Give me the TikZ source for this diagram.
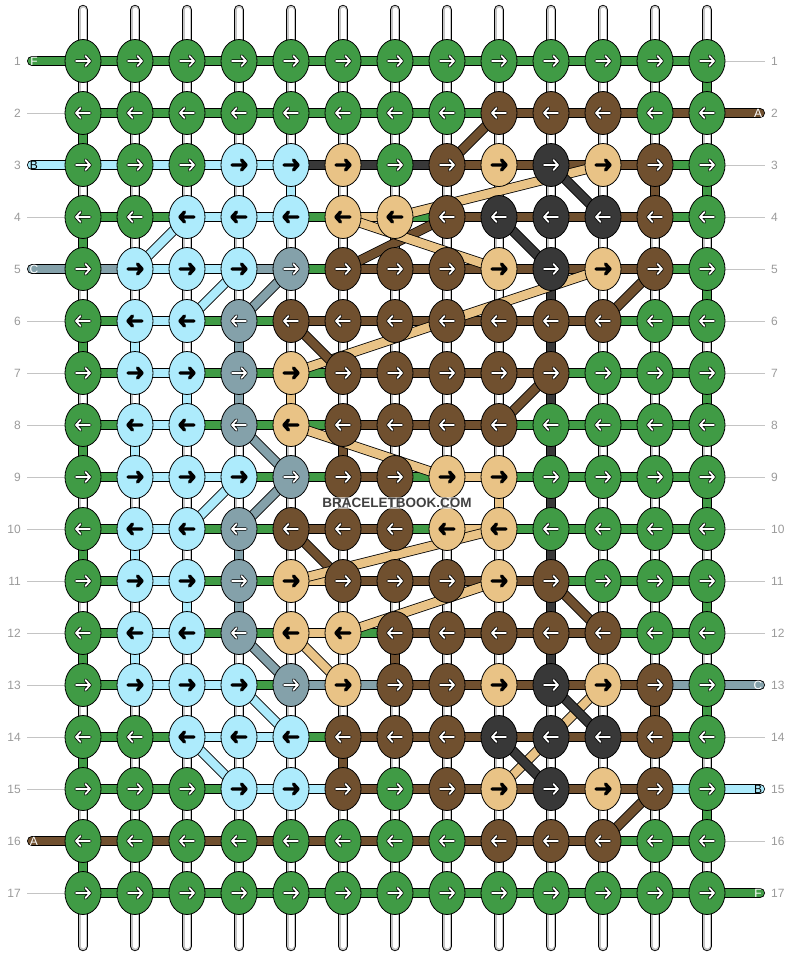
\documentclass[tikz,border=0pt]{standalone}
\usepackage{fontspec}
\setmainfont{Liberation Sans}
\usetikzlibrary{shapes.geometric}

\definecolor{cg}{HTML}{409B45}
\definecolor{cb}{HTML}{70502F}
\definecolor{cl}{HTML}{ADEBFC}
\definecolor{ct}{HTML}{E9C386}
\definecolor{cd}{HTML}{383838}
\definecolor{cs}{HTML}{84A1AA}
\colorlet{arrowg}{white}\colorlet{arrowb}{white}\colorlet{arrows}{white}\colorlet{arrowd}{white}
\colorlet{arrowl}{black}\colorlet{arrowt}{black}
\definecolor{labelgray}{HTML}{9A9A9A}
\definecolor{linegray}{HTML}{C4C4C4}

\begin{document}
\begin{tikzpicture}[x=1pt,y=-1pt,
		strand/.style={draw=black,line width=0.8pt,double distance=8.4pt},
		knot/.style={ellipse,draw=black,line width=0.8pt,minimum width=36pt,minimum height=43pt,inner sep=0pt},
		rowno/.style={text=labelgray,font=\fontsize{12}{12}\selectfont,inner sep=0pt},
		tag/.style={font=\fontsize{12}{12}\selectfont,inner sep=0pt},
		guide/.style={draw=linegray,line width=1pt}]
	\useasboundingbox (0,0) rectangle (792,956);
	\foreach \r in {1,...,17}{
		\foreach \c in {1,...,13}
			\coordinate (p-\r-\c) at ({31+52*\c},{9+52*\r});
		\coordinate (le-\r) at (27,{9+52*\r});
		\coordinate (re-\r) at (765,{9+52*\r});
	}
	\foreach \c in {1,...,13}{
		\coordinate (top-\c) at ({31+52*\c},10);
		\coordinate (bot-\c) at ({31+52*\c},946);
		\draw[line cap=round,line width=10.4pt,black] (top-\c) -- (bot-\c);
		\draw[line cap=round,line width=8.6pt,linegray] (top-\c) -- (bot-\c);
		\draw[line cap=round,line width=5pt,white] (top-\c) -- (bot-\c);
	}
	\foreach \gap [count=\r] in {%
		{w,w,w,w,w,w,w,w,w,w,w,w,g},%
		{g,w,w,w,w,w,w,w,w,w,w,w,w},%
		{w,w,w,w,l,w,w,w,w,w,w,b,g},%
		{g,w,w,w,w,w,w,w,w,w,w,w,w},%
		{w,w,w,w,w,w,w,w,w,d,w,w,g},%
		{g,l,w,s,w,w,w,w,w,d,w,w,w},%
		{w,w,l,s,t,w,w,w,w,d,w,w,g},%
		{g,l,w,w,w,b,w,w,w,d,w,w,w},%
		{w,w,w,w,w,w,w,w,t,d,w,w,g},%
		{g,l,w,s,w,w,w,w,w,d,w,w,w},%
		{w,w,l,s,w,w,w,w,w,d,w,w,g},%
		{g,l,w,w,w,w,b,w,w,d,w,w,w},%
		{w,w,w,w,w,w,w,w,w,w,w,b,g},%
		{g,w,w,w,w,b,w,w,w,w,w,w,w},%
		{w,w,w,w,w,w,w,w,w,w,w,w,g},%
		{g,w,w,w,w,w,w,w,w,w,w,w,w}}{
		\pgfmathtruncatemacro\rr{\r+1}
		\foreach \v [count=\c] in \gap{
			\if\v w\else\draw[strand,double=c\v] (p-\r-\c) -- (p-\rr-\c);\fi
		}
	}
	\foreach \r in {2,4,6,7,8,9,10,11,12,13,14,15,17}
		\draw[guide] (le-\r) -- (p-\r-1);
	\foreach \r in {1,3,4,5,6,7,8,9,10,11,12,14,16}
		\draw[guide] (p-\r-13) -- (re-\r);
	\foreach \r/\k/\lab/\fg in {1/g/F/white,3/l/B/black,5/s/C/white,16/b/A/white}{
		\coordinate (ls-\r) at (32,{9+52*\r});
		\draw[strand,double=c\k,line cap=round] (ls-\r) -- (p-\r-1);
		\node[tag,text=\fg] (lt-\r) at (34,{9+52*\r}) {\lab};
	}
	\foreach \r/\k/\lab/\fg in {2/b/A/white,13/s/C/white,15/l/B/black,17/g/F/white}{
		\coordinate (rs-\r) at (760,{9+52*\r});
		\draw[strand,double=c\k,line cap=round] (p-\r-13) -- (rs-\r);
		\node[tag,text=\fg] (rt-\r) at (758,{9+52*\r}) {\lab};
	}
	\foreach \seg [count=\r] in {%
		{g,g,g,g,g,g,g,g,g,g,g,g},%
		{g,g,g,g,g,g,g,g,b,b,b,b},%
		{l,l,l,l,d,d,d,b,b,b,b,g},%
		{g,g,l,l,g,t,g,b,b,b,b,g},%
		{s,l,l,s,g,b,b,b,b,b,b,g},%
		{g,l,g,g,b,b,b,b,b,b,g,g},%
		{g,l,g,g,g,b,b,b,b,g,g,g},%
		{g,l,g,g,g,b,b,b,g,g,g,g},%
		{g,l,l,g,g,b,g,t,g,g,g,g},%
		{g,l,g,g,b,b,g,t,g,g,g,g},%
		{g,l,g,g,t,b,b,b,b,g,g,g},%
		{g,l,g,g,t,g,b,b,b,b,g,g},%
		{g,l,l,g,s,s,b,b,b,b,b,s},%
		{g,g,l,l,g,b,b,b,b,b,b,g},%
		{g,g,g,l,l,b,b,b,b,b,b,l},%
		{b,b,b,b,b,b,b,b,b,b,g,g},%
		{g,g,g,g,g,g,g,g,g,g,g,g}}{
		\foreach \s [count=\c] in \seg{
			\pgfmathtruncatemacro\cc{\c+1}
			\draw[strand,double=c\s] (p-\r-\c) -- (p-\r-\cc);
		}
	}
	\foreach \a/\b/\k in {2-9/3-8/b,3-11/4-7/t,3-10/4-11/d,4-8/5-6/b,4-6/5-9/t,4-9/5-10/d,%
		4-3/5-2/l,5-4/6-3/l,5-5/6-4/s,5-12/6-11/b,5-11/7-5/t,6-5/7-6/b,7-10/8-9/b,%
		8-5/9-8/t,8-4/9-5/s,9-4/10-3/l,9-5/10-4/s,10-5/11-6/b,10-9/11-5/t,11-10/12-11/b,%
		11-9/12-6/t,12-4/13-5/s,12-5/13-6/t,13-4/14-5/l,14-3/15-4/l,13-11/15-9/t,%
		13-10/14-11/d,14-9/15-10/d,15-12/16-11/b}
		\draw[strand,double=c\k] (p-\a) -- (p-\b);
	\foreach \row [count=\r] in {%
		{g,g,g,g,g,g,g,g,g,g,g,g,g},%
		{g,g,g,g,g,g,g,g,b,b,b,g,g},%
		{g,g,g,l,l,t,g,b,t,d,t,b,g},%
		{g,g,l,l,l,t,t,b,d,d,d,b,g},%
		{g,l,l,l,s,b,b,b,t,d,t,b,g},%
		{g,l,l,s,b,b,b,b,b,b,b,g,g},%
		{g,l,l,s,t,b,b,b,b,b,g,g,g},%
		{g,l,l,s,t,b,b,b,b,g,g,g,g},%
		{g,l,l,l,s,b,b,t,t,g,g,g,g},%
		{g,l,l,s,b,b,b,t,t,g,g,g,g},%
		{g,l,l,s,t,b,b,b,t,b,g,g,g},%
		{g,l,l,s,t,t,b,b,b,b,b,g,g},%
		{g,l,l,l,s,t,b,b,t,d,t,b,g},%
		{g,g,l,l,l,b,b,b,d,d,d,b,g},%
		{g,g,g,l,l,b,g,b,t,d,t,b,g},%
		{g,g,g,g,g,g,g,g,b,b,b,g,g},%
		{g,g,g,g,g,g,g,g,g,g,g,g,g}}{
		\pgfmathsetmacro\dir{2*mod(\r,2)-1}
		\foreach \k [count=\c] in \row{
			\node[knot,fill=c\k] (k-\r-\c) at (p-\r-\c) {};
			\begin{scope}[shift={(p-\r-\c)},xscale=\dir,line cap=round,line join=round]
				\draw[color=black,line width=3.4pt] (-7,0) -- (7,0) (2.5,-5) -- (7,0) -- (2.5,5);
				\draw[color=arrow\k,line width=1.8pt] (-7,0) -- (7,0) (2.5,-5) -- (7,0) -- (2.5,5);
			\end{scope}
		}
	}
	\foreach \r in {1,...,17}{
		\node[rowno,anchor=east] (ln-\r) at (21,{9+52*\r}) {\r};
		\node[rowno,anchor=west] (rn-\r) at (771,{9+52*\r}) {\r};
	}
	\node[fill=white,fill opacity=0.6,text opacity=1,text=black!75,inner sep=1.5pt,
		font=\bfseries\fontsize{13.5}{13.5}\selectfont] (mark) at (397,503) {BRACELETBOOK.COM};
\end{tikzpicture}
\end{document}
